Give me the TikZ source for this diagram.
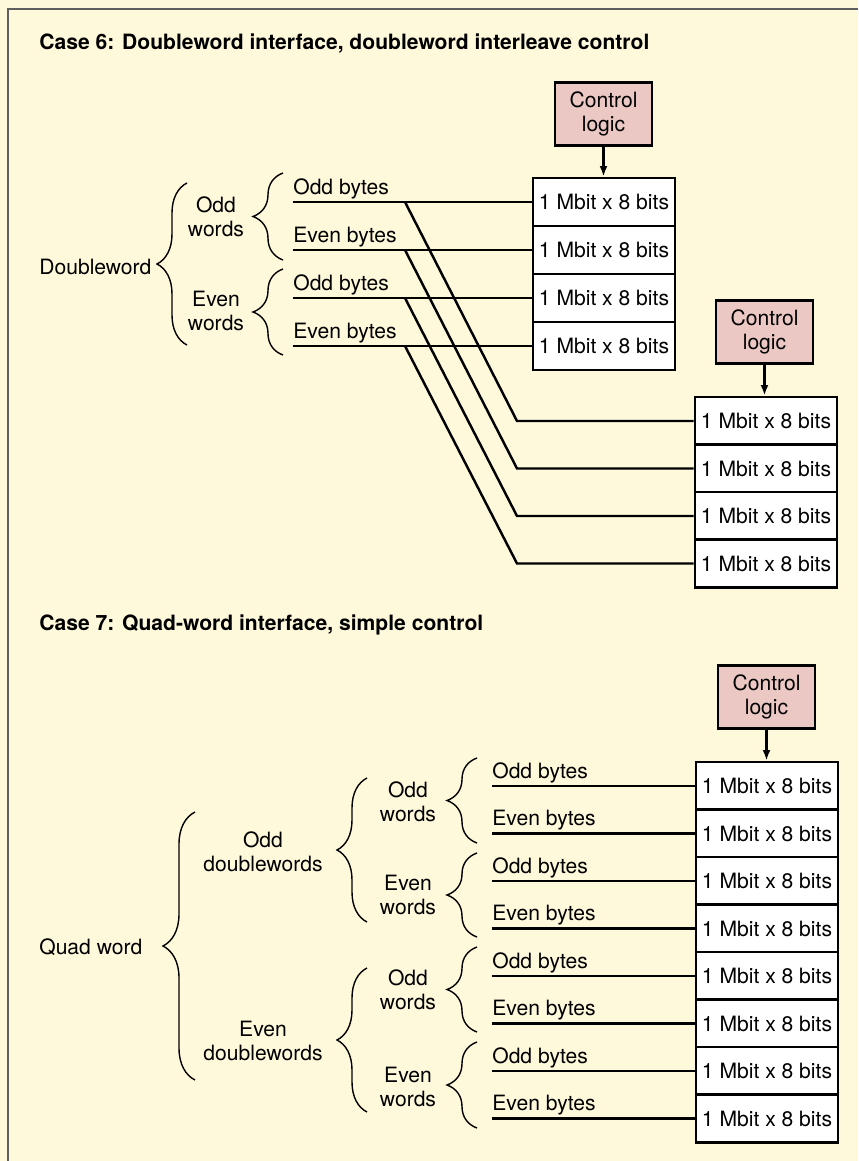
\documentclass[tikz,border=0pt]{standalone}
\usepackage{fontspec}
\setmainfont{TeX Gyre Heros}
\usetikzlibrary{arrows.meta,decorations.pathreplacing}
\definecolor{paper}{RGB}{255,249,220}
\definecolor{ctlpink}{RGB}{235,200,195}
\definecolor{framegray}{RGB}{95,95,95}

\begin{document}
\begin{tikzpicture}[
  every node/.style={font=\fontsize{12}{13.6}\selectfont},
  head/.style={anchor=west,inner xsep=0pt,font=\bfseries\fontsize{12}{13.6}\selectfont},
  membox/.style={draw,line width=1.6pt,fill=white,minimum width=2.840cm,minimum height=0.960cm,inner sep=0pt},
  ctlbox/.style={draw,line width=1.6pt,fill=ctlpink,minimum width=1.940cm,minimum height=1.260cm,align=center,inner sep=0pt},
  wire/.style={line width=1.4pt},
  bytelbl/.style={anchor=south west,inner xsep=0pt,inner ysep=1.5pt},
  brc/.style={decorate,decoration={brace,amplitude=0.6cm},line width=0.8pt},
  feed/.style={line width=1.4pt,-{Latex[length=6pt,width=4.5pt]}}]
\fill[paper] (0,0) rectangle (17.160,-23.220);
\useasboundingbox (0,0) rectangle (17.160,-23.220);
\draw[framegray,line width=0.9pt] (0.160,-23.220) -- (0.160,-0.180) -- (17.160,-0.180);

% case 6
\node[head] (t6) at (0.780,-0.860) {Case 6: Doubleword interface, doubleword interleave control};
\node[anchor=west,inner xsep=0pt] (dw) at (0.780,-5.340) {Doubleword};
\node[align=center] (ow1) at (4.320,-4.340) {Odd\\words};
\node[align=center] (ew1) at (4.320,-6.220) {Even\\words};
\draw[brc] (3.740,-6.900) -- (3.740,-3.660);
\draw[brc] (5.660,-5.200) -- (5.660,-3.460);
\draw[brc] (5.660,-7.100) -- (5.660,-5.380);
\node[bytelbl] (ob1) at (5.860,-4.040) {Odd bytes};
\node[bytelbl] (eb1) at (5.860,-5.000) {Even bytes};
\node[bytelbl] (ob2) at (5.860,-5.960) {Odd bytes};
\node[bytelbl] (eb2) at (5.860,-6.920) {Even bytes};
\coordinate (j1) at (8.100,-4.040);
\coordinate (j2) at (8.100,-5.000);
\coordinate (j3) at (8.100,-5.960);
\coordinate (j4) at (8.100,-6.920);
\coordinate (k1) at (10.340,-8.420);
\coordinate (k2) at (10.340,-9.370);
\coordinate (k3) at (10.340,-10.320);
\coordinate (k4) at (10.340,-11.270);
\node[ctlbox] (ctlA) at (12.070,-2.280) {Control\\logic};
\node[membox] (a1) at (12.080,-4.040) {1 Mbit x 8 bits};
\node[membox] (a2) at (12.080,-5.000) {1 Mbit x 8 bits};
\node[membox] (a3) at (12.080,-5.960) {1 Mbit x 8 bits};
\node[membox] (a4) at (12.080,-6.920) {1 Mbit x 8 bits};
\node[ctlbox] (ctlB) at (15.290,-6.640) {Control\\logic};
\node[membox] (b1) at (15.320,-8.420) {1 Mbit x 8 bits};
\node[membox] (b2) at (15.320,-9.370) {1 Mbit x 8 bits};
\node[membox] (b3) at (15.320,-10.320) {1 Mbit x 8 bits};
\node[membox] (b4) at (15.320,-11.270) {1 Mbit x 8 bits};
\draw[wire] (ob1.south west) -- (a1.west);
\draw[wire] (eb1.south west) -- (a2.west);
\draw[wire] (ob2.south west) -- (a3.west);
\draw[wire] (eb2.south west) -- (a4.west);
\draw[wire] (j1) -- (k1) -- (b1.west);
\draw[wire] (j2) -- (k2) -- (b2.west);
\draw[wire] (j3) -- (k3) -- (b3.west);
\draw[wire] (j4) -- (k4) -- (b4.west);
\draw[feed] (ctlA.south) -- (ctlA.south |- a1.north);
\draw[feed] (ctlB.south) -- (ctlB.south |- b1.north);

% case 7
\node[head] (t7) at (0.780,-12.500) {Case 7: Quad-word interface, simple control};
\node[anchor=west,inner xsep=0pt] (qw) at (0.780,-18.940) {Quad word};
\node[align=center] (odw) at (5.260,-17.030) {Odd\\doublewords};
\node[align=center] (edw) at (5.260,-20.820) {Even\\doublewords};
\node[align=center] (ow2) at (8.160,-16.030) {Odd\\words};
\node[align=center] (ew2) at (8.160,-17.900) {Even\\words};
\node[align=center] (ow3) at (8.160,-19.790) {Odd\\words};
\node[align=center] (ew3) at (8.160,-21.740) {Even\\words};
\draw[brc,decoration={amplitude=0.64cm}] (3.900,-21.600) -- (3.900,-16.240);
\draw[brc] (7.340,-18.440) -- (7.340,-15.560);
\draw[brc] (7.340,-22.240) -- (7.340,-19.360);
\draw[brc] (9.540,-16.860) -- (9.540,-15.160);
\draw[brc] (9.540,-18.740) -- (9.540,-17.060);
\draw[brc] (9.540,-20.640) -- (9.540,-18.940);
\draw[brc] (9.540,-22.560) -- (9.540,-20.840);
\node[bytelbl] (ob3) at (9.840,-15.720) {Odd bytes};
\node[bytelbl] (eb3) at (9.840,-16.670) {Even bytes};
\node[bytelbl] (ob4) at (9.840,-17.620) {Odd bytes};
\node[bytelbl] (eb4) at (9.840,-18.570) {Even bytes};
\node[bytelbl] (ob5) at (9.840,-19.520) {Odd bytes};
\node[bytelbl] (eb5) at (9.840,-20.470) {Even bytes};
\node[bytelbl] (ob6) at (9.840,-21.420) {Odd bytes};
\node[bytelbl] (eb6) at (9.840,-22.370) {Even bytes};
\node[ctlbox] (ctlC) at (15.330,-13.940) {Control\\logic};
\node[membox] (c1) at (15.340,-15.720) {1 Mbit x 8 bits};
\node[membox] (c2) at (15.340,-16.670) {1 Mbit x 8 bits};
\node[membox] (c3) at (15.340,-17.620) {1 Mbit x 8 bits};
\node[membox] (c4) at (15.340,-18.570) {1 Mbit x 8 bits};
\node[membox] (c5) at (15.340,-19.520) {1 Mbit x 8 bits};
\node[membox] (c6) at (15.340,-20.470) {1 Mbit x 8 bits};
\node[membox] (c7) at (15.340,-21.420) {1 Mbit x 8 bits};
\node[membox] (c8) at (15.340,-22.370) {1 Mbit x 8 bits};
\draw[wire] (ob3.south west) -- (c1.west);
\draw[wire] (eb3.south west) -- (c2.west);
\draw[wire] (ob4.south west) -- (c3.west);
\draw[wire] (eb4.south west) -- (c4.west);
\draw[wire] (ob5.south west) -- (c5.west);
\draw[wire] (eb5.south west) -- (c6.west);
\draw[wire] (ob6.south west) -- (c7.west);
\draw[wire] (eb6.south west) -- (c8.west);
\draw[feed] (ctlC.south) -- (ctlC.south |- c1.north);
\end{tikzpicture}
\end{document}
